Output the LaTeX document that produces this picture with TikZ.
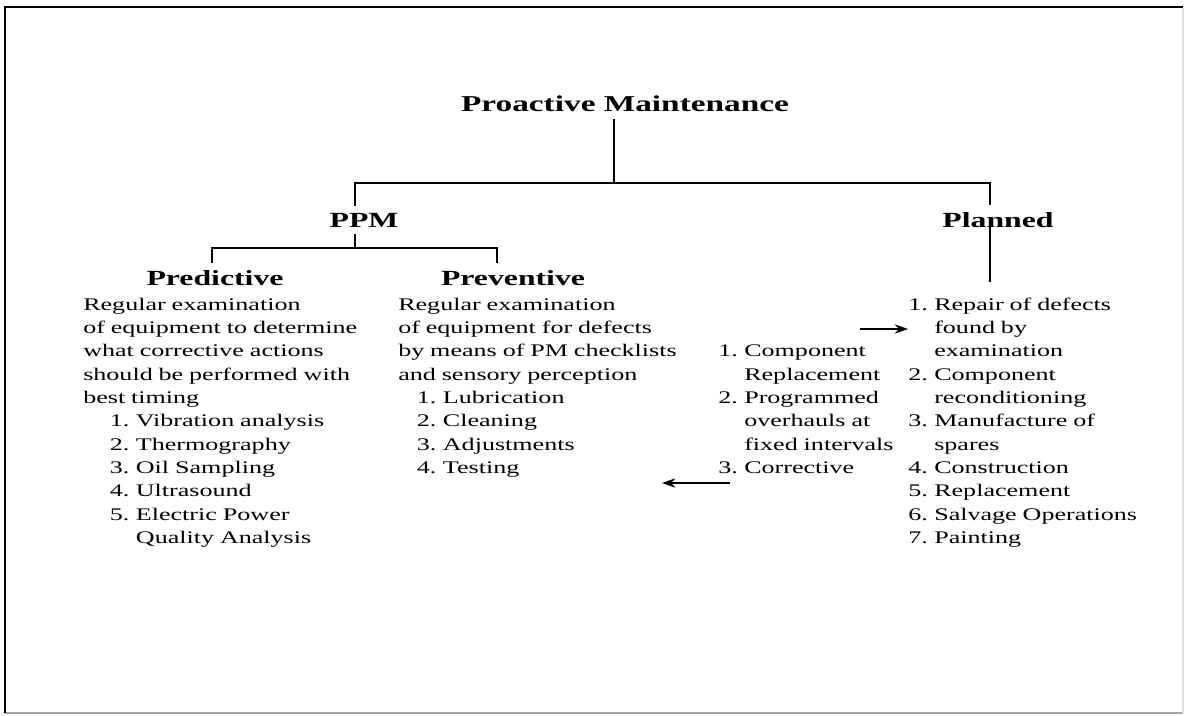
\documentclass[tikz,border=0pt]{standalone}
\usepackage{fontspec}
\setmainfont{Liberation Serif}[FakeStretch=1.47]
\usepackage{tikz}
\usetikzlibrary{arrows.meta, positioning}
\newcommand{\lnum}[1]{\makebox[19.5pt][l]{#1}}
\newcommand{\lind}{\hspace*{20pt}}

\begin{document}
\begin{tikzpicture}[x=0.75pt, y=-0.75pt,
  head/.style={font=\fontsize{16.2}{19}\selectfont\bfseries,
               inner xsep=2pt, inner ysep=5pt, anchor=base},
  body/.style={font=\fontsize{13.3}{17.5}\selectfont, inner sep=0pt,
               text width=9cm, align=left, anchor=base west},
  link/.style={line width=1.1pt},
  arr/.style={line width=1.1pt, -{Stealth[length=10pt,width=7pt]}}]
  \useasboundingbox (0,0) rectangle (1185,715);
  % frame
  \draw[gray!70, line width=1.2pt] (5,713) -- (1183,713);
  \draw[gray!25, line width=0.8pt] (1183,7) -- (1183,713);
  \draw[line width=2.2pt] (5,713) -- (5,7) -- (1183,7);

  % headings
  \node[head, font=\fontsize{17}{20}\selectfont\bfseries, inner ysep=6pt]
    (title) at (625,111) {Proactive Maintenance};
  \node[head] (ppm) at (364,227) {PPM};
  \node[head] (planned) at (998,227) {Planned};
  \node[head] (predictive) at (215,285) {Predictive};
  \node[head] (preventive) at (513,285) {Preventive};

  % texts
  \node[body] (predtext) at (83,310)
    {Regular examination\\
     of equipment to determine\\
     what corrective actions\\
     should be performed with\\
     best timing\\
     \lind\lnum{1.}Vibration analysis\\
     \lind\lnum{2.}Thermography\\
     \lind\lnum{3.}Oil Sampling\\
     \lind\lnum{4.}Ultrasound\\
     \lind\lnum{5.}Electric Power\\
     \lind\lnum{}Quality Analysis};
  \node[body] (prevtext) at (398,310)
    {Regular examination\\
     of equipment for defects\\
     by means of PM checklists\\
     and sensory perception\\
     \hspace*{14pt}\lnum{1.}Lubrication\\
     \hspace*{14pt}\lnum{2.}Cleaning\\
     \hspace*{14pt}\lnum{3.}Adjustments\\
     \hspace*{14pt}\lnum{4.}Testing};
  \node[body, text width=6.5cm] (corrlist) at (718,356.7)
    {\lnum{1.}Component\\
     \lnum{}Replacement\\
     \lnum{2.}Programmed\\
     \lnum{}overhauls at\\
     \lnum{}fixed intervals\\
     \lnum{3.}Corrective};
  \node[body, text width=7cm] (planlist) at (908,310)
    {\lnum{1.}Repair of defects\\
     \lnum{}found by\\
     \lnum{}examination\\
     \lnum{2.}Component\\
     \lnum{}reconditioning\\
     \lnum{3.}Manufacture of\\
     \lnum{}spares\\
     \lnum{4.}Construction\\
     \lnum{5.}Replacement\\
     \lnum{6.}Salvage Operations\\
     \lnum{7.}Painting};

  % tree
  \coordinate (hub) at (614,183);
  \coordinate (lend) at (355,183);
  \coordinate (rend) at (990,183);
  \coordinate (pl) at (212,248);
  \coordinate (pr) at (497,248);
  \coordinate (pdrop) at (990,282);
  \draw[line width=1pt] (title.south -| hub) -- (hub);
  \draw[line width=0.8pt] (ppm.north -| lend) -- (lend) -- (rend)
    -- (planned.north -| rend);
  \draw[link] (ppm.south -| lend) -- (lend |- pl);
  \draw[link, line width=1.4pt] (predictive.north -| pl) |- (pr)
    -- (preventive.north -| pr);
  \draw[line width=0.8pt] (planned.base -| rend) -- (pdrop);

  % arrows
  \coordinate (toplan) at (860,329);
  \coordinate (fromcorr) at (730,483);
  \coordinate (toprev) at (662,483);
  \draw[arr] (toplan) -- (toplan -| planlist.west);
  \draw[arr] (fromcorr) -- (toprev);
\end{tikzpicture}
\end{document}
